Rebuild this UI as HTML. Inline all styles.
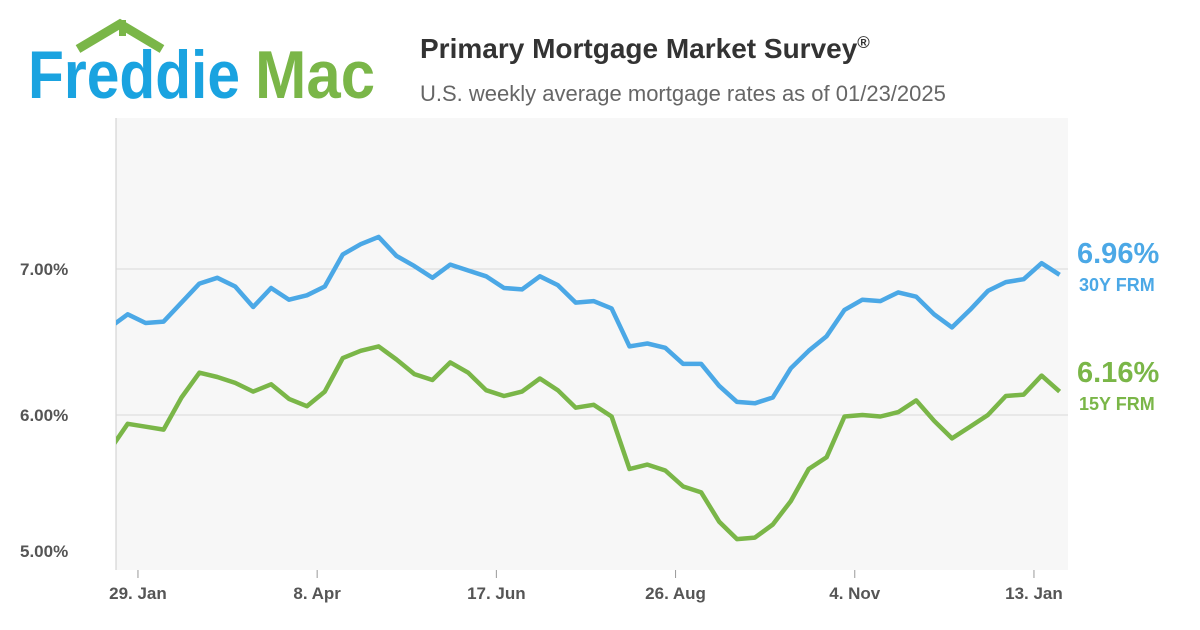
<!DOCTYPE html>
<html><head><meta charset="utf-8"><style>
body{margin:0;width:1200px;height:630px;background:#fff;overflow:hidden;font-family:"Liberation Sans",sans-serif;}
svg{display:block}
</style></head><body>
<svg width="1200" height="630">
<g>
<polyline points="78,49 120,24 162,49" fill="none" stroke="#7ab648" stroke-width="9"/>
<rect x="119" y="20" width="7" height="16" fill="#7ab648"/>
<text x="28" y="98" font-size="68" fill="#1aa3e0" font-weight="bold" textLength="212" lengthAdjust="spacingAndGlyphs">Freddie</text>
<text x="255" y="98" font-size="68" fill="#7ab648" font-weight="bold" textLength="120" lengthAdjust="spacingAndGlyphs">Mac</text>
</g>
<text x="420" y="58" font-size="28" font-weight="bold" fill="#333">Primary Mortgage Market Survey<tspan font-size="17" dy="-10">®</tspan></text>
<text x="420" y="101" font-size="22" fill="#666">U.S. weekly average mortgage rates as of 01/23/2025</text>
<rect x="116" y="118" width="952" height="452" fill="#f7f7f7"/>
<line x1="116" y1="118" x2="116" y2="570" stroke="#ccc"/>
<g id="grid"></g><g id="lines"></g><g id="labels"></g>
<text x="1077" y="263" font-size="29" font-weight="bold" fill="#4ba8e6">6.96%</text>
<text x="1079" y="291" font-size="18" font-weight="bold" fill="#4ba8e6">30Y FRM</text>
<text x="1077" y="382" font-size="29" font-weight="bold" fill="#7ab648">6.16%</text>
<text x="1079" y="410" font-size="18" font-weight="bold" fill="#7ab648">15Y FRM</text>
</svg>
<script>
const rate30 = [6.60,6.69,6.63,6.64,6.77,6.90,6.94,6.88,6.74,6.87,6.79,6.82,6.88,7.10,7.17,7.22,7.09,7.02,6.94,7.03,6.99,6.95,6.87,6.86,6.95,6.89,6.77,6.78,6.73,6.47,6.49,6.46,6.35,6.35,6.20,6.09,6.08,6.12,6.32,6.44,6.54,6.72,6.79,6.78,6.84,6.81,6.69,6.60,6.72,6.85,6.91,6.93,7.04,6.96];
const rate15 = [5.76,5.94,5.92,5.90,6.12,6.29,6.26,6.22,6.16,6.21,6.11,6.06,6.16,6.39,6.44,6.47,6.38,6.28,6.24,6.36,6.29,6.17,6.13,6.16,6.25,6.17,6.05,6.07,5.99,5.63,5.66,5.62,5.51,5.47,5.27,5.15,5.16,5.25,5.41,5.63,5.71,5.99,6.00,5.99,6.02,6.10,5.96,5.84,5.92,6.00,6.13,6.14,6.27,6.16];
const yTicks = [5,6,7];
const yTickLabels = ["5.00%","6.00%","7.00%"];
const xTickLabels = ["29. Jan","8. Apr","17. Jun","26. Aug","4. Nov","13. Jan"];
const xTickDays = [11,81,151,221,291,361]; // days after first week (18 Jan 2024)
const NS="http://www.w3.org/2000/svg";
const x0=109.8, pxPerDay=2.56;
const xs=d=>x0+d*pxPerDay;
const ys=v=>415-(v-6)*146;
const grid=document.getElementById('grid'),lines=document.getElementById('lines'),labels=document.getElementById('labels');
yTicks.forEach((t,i)=>{
  if(t>5){const l=document.createElementNS(NS,'line');
  l.setAttribute('x1',116);l.setAttribute('x2',1068);l.setAttribute('y1',ys(t));l.setAttribute('y2',ys(t));l.setAttribute('stroke','#d8d8d8');
  
  
  grid.appendChild(l);}
  const tx=document.createElementNS(NS,'text');
  tx.setAttribute('x',20);tx.setAttribute('y',ys(t)+(t==5?-4:6));tx.setAttribute('font-size',17);tx.setAttribute('font-weight','bold');tx.setAttribute('fill','#555');
  tx.textContent=yTickLabels[i];
  
  
  labels.appendChild(tx);
});
xTickDays.forEach((d,i)=>{
  const x=xs(d);
  const l=document.createElementNS(NS,'line');
  l.setAttribute('x1',x);l.setAttribute('x2',x);l.setAttribute('y1',570);l.setAttribute('y2',578);l.setAttribute('stroke','#999');
  
  
  labels.appendChild(l);
  const tx=document.createElementNS(NS,'text');
  tx.setAttribute('x',x);tx.setAttribute('y',599);tx.setAttribute('text-anchor','middle');tx.setAttribute('font-size',17);tx.setAttribute('font-weight','bold');tx.setAttribute('fill','#555');
  tx.textContent=xTickLabels[i];
  
  
  labels.appendChild(tx);
});
const cp=document.createElementNS(NS,'clipPath');cp.setAttribute('id','clip');
const cr=document.createElementNS(NS,'rect');cr.setAttribute('x',116);cr.setAttribute('y',100);cr.setAttribute('width',960);cr.setAttribute('height',480);
cp.appendChild(cr);lines.appendChild(cp);
[[rate30,'#4ba8e6','line-30y-frm'],[rate15,'#7ab648','line-15y-frm']].forEach(([arr,c,n])=>{
  const p=document.createElementNS(NS,'polyline');
  p.setAttribute('points',arr.map((v,i)=>xs(i*7).toFixed(1)+','+ys(v).toFixed(1)).join(' '));
  p.setAttribute('fill','none');p.setAttribute('stroke',c);p.setAttribute('stroke-width',4.5);p.setAttribute('stroke-linejoin','round');
  p.setAttribute('clip-path','url(#clip)');
  
  
  lines.appendChild(p);
});
</script>
</body></html>
